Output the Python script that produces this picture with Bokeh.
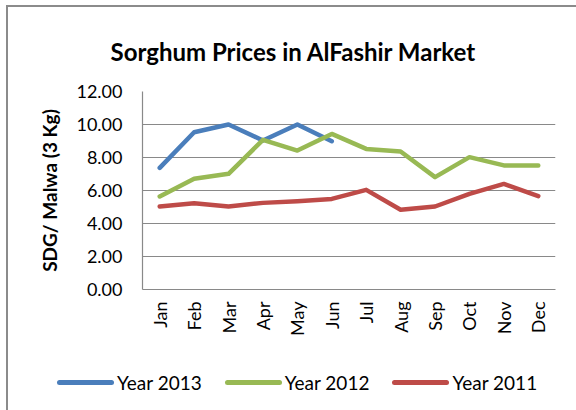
import math
from bokeh.plotting import figure
from bokeh.layouts import column
from bokeh.models import (FactorRange, Range1d, FixedTicker, NumeralTickFormatter, Div)
from bokeh.embed import file_html
from bokeh.resources import INLINE

months = ["Jan", "Feb", "Mar", "Apr", "May", "Jun",
          "Jul", "Aug", "Sep", "Oct", "Nov", "Dec"]
year2013 = [7.37, 9.53, 10.00, 9.03, 10.00, 8.99]
year2012 = [5.64, 6.71, 7.01, 9.07, 8.42, 9.43, 8.52, 8.36, 6.81, 8.02, 7.52, 7.52]
year2011 = [5.03, 5.23, 5.03, 5.25, 5.35, 5.49, 6.04, 4.83, 5.03, 5.80, 6.40, 5.66]
y_ticks = [0, 2, 4, 6, 8, 10, 12]
series_names = ["Year 2013", "Year 2012", "Year 2011"]
series_colors = ["#4a7ebb", "#98b954", "#be4b48"]

title_text = "Sorghum Prices in AlFashir Market"
y_label = "SDG/ Malwa (3 Kg)"

FONT = "Lato"
GRAY = "#898989"
LW = 4.5
series = [year2013, year2012, year2011]

# ---------------- main chart ----------------
p = figure(width=566, height=340,
           x_range=FactorRange(factors=months, range_padding=0),
           y_range=Range1d(0, 12),
           output_backend="svg", toolbar_location=None,
           min_border_left=134, min_border_right=19,
           min_border_top=84, min_border_bottom=58)

p.title.text = title_text
p.title.align = "left"
p.title.offset = -32
p.title.text_font = FONT
p.title.text_font_size = "24px"
p.title.text_font_style = "bold"
p.title.text_color = "black"
if "standoff" in p.title.properties():
    p.title.standoff = 52

p.outline_line_color = None
p.xgrid.grid_line_color = None
p.ygrid.grid_line_color = GRAY
p.ygrid.grid_line_width = 1.2

p.yaxis.ticker = FixedTicker(ticks=y_ticks)
p.yaxis.formatter = NumeralTickFormatter(format="0.00")
p.yaxis.axis_label = y_label
p.yaxis.axis_label_text_font = FONT
p.yaxis.axis_label_text_font_size = "19px"
p.yaxis.axis_label_text_font_style = "bold"
p.yaxis.axis_label_text_color = "black"
p.yaxis.axis_label_standoff = 12
p.yaxis.major_label_standoff = 20

for ax in (p.xaxis[0], p.yaxis[0]):
    ax.axis_line_color = GRAY
    ax.axis_line_width = 1.2
    ax.major_tick_in = 0
    ax.major_tick_out = 0
    ax.minor_tick_in = 0
    ax.minor_tick_out = 0
    ax.major_label_text_font = FONT
    ax.major_label_text_font_size = "18px"
    ax.major_label_text_color = "black"

p.xaxis.major_label_orientation = math.pi / 2
p.xaxis.major_label_standoff = 12

for vals, col in zip(series, series_colors):
    p.line(x=months[:len(vals)], y=vals, line_color=col,
           line_width=LW, line_join="round", line_cap="round")

# ---------------- legend strip (HTML) ----------------
items_html = ""
for name, col in zip(series_names, series_colors):
    items_html += (
        f'<span style="display:inline-block;flex:none;width:57px;height:5px;'
        f'border-radius:2.5px;background:{col};"></span>'
        f'<span style="margin-left:3px;margin-right:23px;">{name}</span>'
    )
legend_html = (
    f'<div style="display:flex;align-items:center;height:23px;line-height:23px;'
    f'margin-top:19px;padding-left:44px;font-family:{FONT};font-size:19px;'
    f'color:black;white-space:nowrap;">{items_html}</div>'
)
legend_div = Div(text=legend_html, width=566, height=60)

layout = column(p, legend_div, spacing=0)
layout.styles = {"margin-left": "6px", "margin-top": "5px",
                 "border-left": "2px solid #8b8b8b", "border-top": "2px solid #8b8b8b"}

open("out.html", "w").write(file_html(layout, INLINE))
